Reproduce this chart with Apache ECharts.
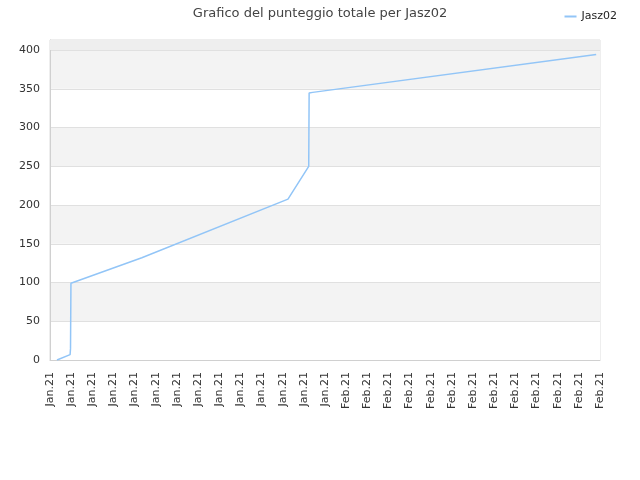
<!DOCTYPE html>
<html>
<head>
<meta charset="utf-8">
<script src="https://cdn.jsdelivr.net/npm/echarts@6/dist/echarts.min.js"></script>
<style>html,body{margin:0;padding:0;background:#fff}#c{width:640px;height:480px}</style>
</head>
<body>
<div id="c"></div>
<script>
const titleText = "Grafico del punteggio totale per Jasz02";
const seriesName = "Jasz02";
const tickLabels = ["Jan.21","Jan.21","Jan.21","Jan.21","Jan.21","Jan.21","Jan.21","Jan.21","Jan.21","Jan.21","Jan.21","Jan.21","Jan.21","Jan.21",
  "Feb.21","Feb.21","Feb.21","Feb.21","Feb.21","Feb.21","Feb.21","Feb.21","Feb.21","Feb.21","Feb.21","Feb.21","Feb.21"];
const xPos = [0.33, 0.95, 0.97, 0.99, 1.05, 4.34, 11.25, 12.23, 12.25, 12.42, 25.82];
const scores = [0, 7, 15, 99, 101, 132, 207.6, 250, 344.5, 345.4, 394.4];
const yMax = 413;

const chart = echarts.init(document.getElementById('c'));
chart.setOption({
  animation: false,
  textStyle: { fontFamily: 'DejaVu Sans' },
  title: { text: titleText, left: 'center', top: 2, textStyle: { fontSize: 13, fontWeight: 'normal', color: '#444', fontFamily: 'DejaVu Sans' } },
  legend: { right: 18, top: 6, icon: 'rect', itemWidth: 12, itemHeight: 2, itemGap: 8, textStyle: { fontSize: 11, color: '#222' }, data: [seriesName] },
  grid: { left: 50, right: 40, top: 40, bottom: 120, show: true, borderColor: '#dddddd', borderWidth: 1, backgroundColor: 'transparent' },
  xAxis: {
    type: 'value', min: 0, max: tickLabels.length - 1, interval: 1,
    axisLine: { show: true, lineStyle: { color: '#d0d0d0' } },
    axisTick: { show: false },
    splitLine: { show: false },
    axisLabel: { rotate: 90, fontSize: 11, color: '#333', margin: 12, formatter: v => tickLabels[Math.round(v)] || '' }
  },
  yAxis: {
    type: 'value', min: 0, max: yMax, interval: 50,
    axisLine: { show: true, lineStyle: { color: '#d0d0d0' } },
    axisTick: { show: false },
    axisLabel: { fontSize: 11, color: '#333', margin: 10, showMaxLabel: false },
    splitLine: { lineStyle: { color: '#e0e0e0' } },
    splitArea: { show: true, areaStyle: { color: ['#ffffff', '#f3f3f3'] } }
  },
  series: [{
    name: seriesName, type: 'line', symbol: 'none',
    lineStyle: { color: '#92c5f7', width: 1.5 },
    itemStyle: { color: '#92c5f7' },
    data: xPos.map((x, i) => [x, scores[i]]),
    markArea: { silent: true, itemStyle: { color: '#eeeeee' }, data: [[{ yAxis: 400 }, { yAxis: yMax }]] }
  }]
});
</script>
</body>
</html>
